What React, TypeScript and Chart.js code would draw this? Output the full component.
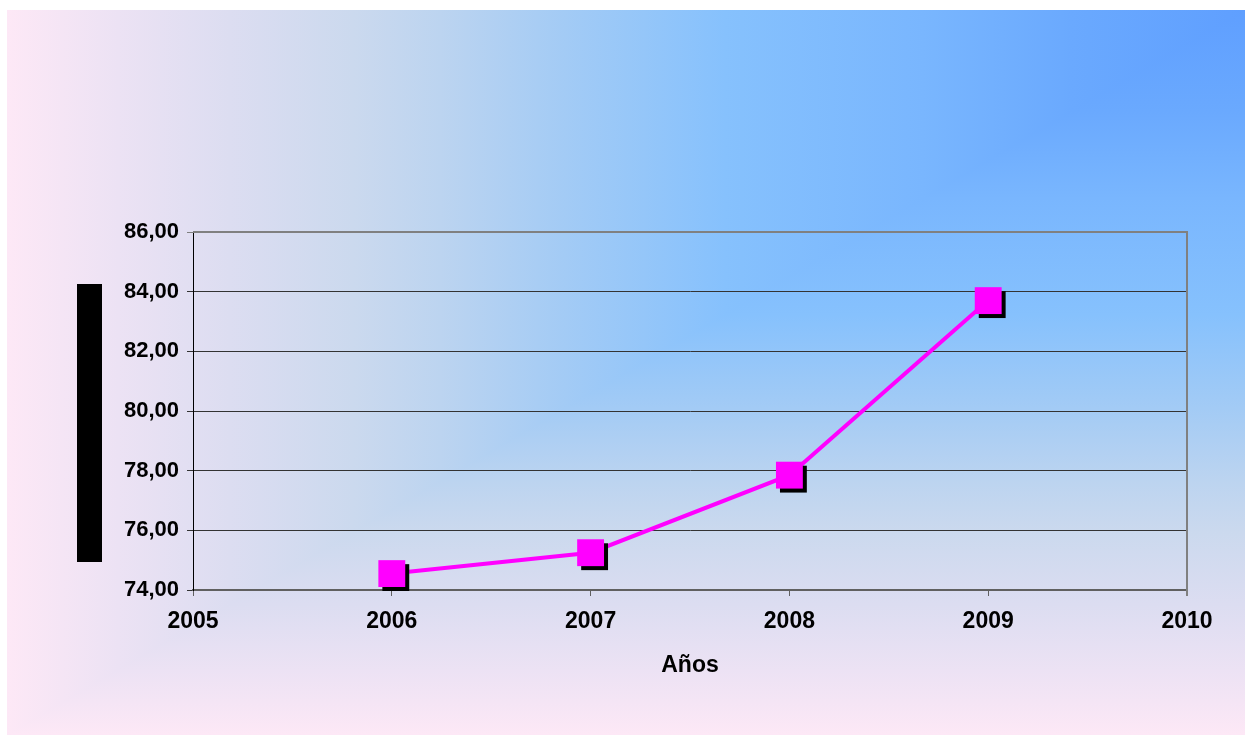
import React, { useEffect, useRef } from "react";
import { Chart, registerables } from "chart.js";

Chart.register(...registerables);

const years = [2006, 2007, 2008, 2009];
const values = [74.55, 75.25, 77.85, 83.7];
const xTitle = "Años";
const yMin = 74;
const yMax = 86;
const yStep = 2;
const xMin = 2005;
const xMax = 2010;

const FONT = '"Liberation Sans", Arial, Helvetica, sans-serif';

const stops =
  "#5f9fff 0%, #6aa9fe 14%, #79b6fe 26%, #86c1fd 42%, #a3cbf5 55%, #bcd4f0 65%, #cbd9ee 72%, #dcddf1 82%, #ece2f4 91%, #fde8f6 100%";

const shadowPlugin = {
  id: "markerShadow",
  beforeDatasetDraw(chart: any, args: any) {
    const ds = chart.data.datasets[args.index];
    if (!ds || !ds.shadow) return;
    const ctx = chart.ctx;
    const dpr = chart.currentDevicePixelRatio || 1;
    ctx.save();
    ctx.shadowColor = "#000000";
    ctx.shadowBlur = 0;
    ctx.shadowOffsetX = 4 * dpr;
    ctx.shadowOffsetY = 4 * dpr;
  },
  afterDatasetDraw(chart: any, args: any) {
    const ds = chart.data.datasets[args.index];
    if (!ds || !ds.shadow) return;
    chart.ctx.restore();
  },
};

const framePlugin = {
  id: "frame",
  beforeDatasetsDraw(chart: any) {
    const { ctx, chartArea } = chart;
    ctx.save();
    ctx.strokeStyle = "#808080";
    ctx.lineWidth = 2;
    ctx.beginPath();
    ctx.moveTo(chartArea.left, chartArea.top);
    ctx.lineTo(chartArea.right, chartArea.top);
    ctx.lineTo(chartArea.right, chartArea.bottom + 6);
    ctx.stroke();
    ctx.restore();
  },
};

export default function App() {
  const canvasRef = useRef<HTMLCanvasElement | null>(null);

  useEffect(() => {
    document.body.style.overflow = "hidden";
    const canvas = canvasRef.current;
    if (!canvas) return;
    const points = years.map((x, i) => ({ x, y: values[i] }));
    const chart = new Chart(canvas, {
      type: "line",
      data: {
        datasets: [
          {
            data: points,
            showLine: false,
            pointStyle: "rect",
            pointRadius: 19,
            pointHoverRadius: 19,
            pointBackgroundColor: "#ff00ff",
            pointBorderColor: "#ff00ff",
            pointBorderWidth: 0,
            clip: false,
            shadow: true,
          } as any,
          {
            data: points,
            showLine: true,
            borderColor: "#ff00ff",
            borderWidth: 4,
            pointRadius: 0,
            pointHoverRadius: 0,
            tension: 0,
            clip: false,
          } as any,
        ],
      },
      options: {
        animation: false,
        responsive: true,
        maintainAspectRatio: false,
        layout: { padding: { left: 100, right: 58, top: 232, bottom: 45 } },
        plugins: {
          legend: { display: false },
          tooltip: { enabled: false },
        },
        events: [],
        scales: {
          x: {
            type: "linear",
            min: xMin,
            max: xMax,
            afterFit: (scale: any) => {
              scale.height = 100;
            },
            ticks: {
              stepSize: 1,
              color: "#000000",
              padding: 12,
              font: { family: FONT, size: 23, weight: "bold" },
              callback: (v: any) => String(v),
            },
            grid: {
              drawOnChartArea: false,
              drawTicks: true,
              tickLength: 6,
              color: "#606060",
              lineWidth: 1,
            },
            border: { display: true, color: "#606060", width: 2 },
            title: {
              display: true,
              text: xTitle,
              color: "#000000",
              font: { family: FONT, size: 23, weight: "bold" },
              padding: { top: 0, bottom: 11 },
            },
          },
          y: {
            type: "linear",
            min: yMin,
            max: yMax,
            afterFit: (scale: any) => {
              scale.width = 93;
            },
            ticks: {
              stepSize: yStep,
              color: "#000000",
              padding: 8,
              font: { family: FONT, size: 22, weight: "bold" },
              callback: (v: any) => Number(v).toFixed(2).replace(".", ","),
            },
            grid: {
              drawTicks: true,
              tickLength: 6,
              color: (c: any) => (c.tick && c.tick.value === yMax ? "#808080" : "#333333"),
              lineWidth: 1,
            },
            border: { display: true, color: "#000000", width: 1 },
          },
        },
      },
      plugins: [shadowPlugin, framePlugin],
    });
    return () => chart.destroy();
  }, []);

  return (
    <div>
      <div
        style={{
          position: "absolute",
          left: 7,
          top: 10,
          width: 1238,
          height: 725,
          background: `linear-gradient(to left, ${stops})`,
        }}
      />
      <div
        style={{
          position: "absolute",
          left: 7,
          top: 10,
          width: 1238,
          height: 725,
          background: `linear-gradient(to bottom, ${stops})`,
          clipPath: "polygon(100% 0, 100% 100%, 0 100%)",
        }}
      />
      <div
        style={{
          position: "absolute",
          left: 77,
          top: 284,
          width: 25,
          height: 278,
          background: "#000000",
        }}
      />
      <div style={{ position: "absolute", left: 0, top: 0, width: 1245, height: 735 }}>
        <canvas ref={canvasRef} />
      </div>
    </div>
  );
}
